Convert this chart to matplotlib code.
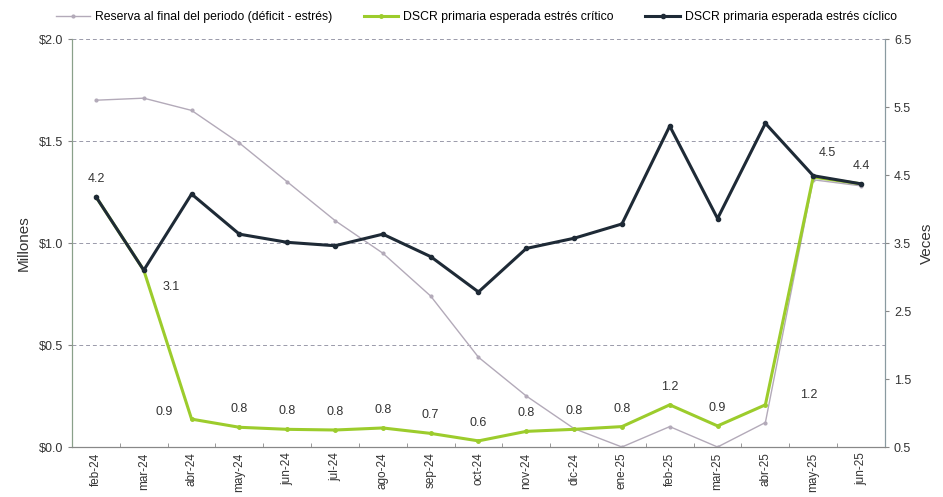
import matplotlib
matplotlib.use("Agg")
import matplotlib.pyplot as plt
import numpy as np

plt.rcParams['font.family'] = ['Liberation Sans', 'DejaVu Sans']

# --- Datos ---
meses = ["feb-24", "mar-24", "abr-24", "may-24", "jun-24", "jul-24", "ago-24", "sep-24",
         "oct-24", "nov-24", "dic-24", "ene-25", "feb-25", "mar-25", "abr-25", "may-25", "jun-25"]
reserva = [1.70, 1.71, 1.65, 1.49, 1.30, 1.11, 0.95, 0.74, 0.44, 0.25, 0.09, 0.00,
           0.10, 0.00, 0.12, 1.31, 1.28]
dscr_critico = [4.18, 3.10, 0.91, 0.79, 0.76, 0.75, 0.78, 0.70, 0.59, 0.73, 0.76, 0.80,
                1.12, 0.81, 1.12, 4.47, 4.37]
dscr_ciclico = [4.18, 3.10, 4.22, 3.63, 3.51, 3.46, 3.63, 3.30, 2.78, 3.42, 3.57, 3.78,
                5.22, 3.86, 5.26, 4.49, 4.37]
etiquetas = ["4.2", "3.1", "0.9", "0.8", "0.8", "0.8", "0.8", "0.7", "0.6", "0.8", "0.8", "0.8",
             "1.2", "0.9", "", "4.5", "4.4"]

c_gris = "#b3aab9"
c_verde = "#9ccc2c"
c_oscuro = "#1e2a36"
c_texto = "#333333"

fig = plt.figure(figsize=(9.43, 4.97), dpi=100)
ax = fig.add_axes([0.0764, 0.1006, 0.862, 0.8209])
ax2 = ax.twinx()

x = np.arange(len(meses))

ax.plot(x, reserva, color=c_gris, lw=1.0, marker='o', ms=2, zorder=2)
ax2.plot(x, dscr_critico, color=c_verde, lw=2.2, marker='o', ms=2.5, zorder=3)
ax2.plot(x, dscr_ciclico, color=c_oscuro, lw=2.2, marker='o', ms=3, zorder=4)

# eje izquierdo
ax.set_xlim(-0.5, len(meses) - 0.5)
ax.set_ylim(0, 2.0)
ax.set_yticks([0, 0.5, 1.0, 1.5, 2.0])
ax.set_yticklabels(["$0.0", "$0.5", "$1.0", "$1.5", "$2.0"])
ax.set_ylabel("Millones", fontsize=11, color=c_texto, labelpad=6)
ax.grid(axis='y', ls=(0, (4, 3)), color="#9a9aaa", lw=0.7)
ax.set_axisbelow(True)

# eje derecho
ax2.set_ylim(0.5, 6.5)
ax2.set_yticks([0.5, 1.5, 2.5, 3.5, 4.5, 5.5, 6.5])
ax2.set_yticklabels(["0.5", "1.5", "2.5", "3.5", "4.5", "5.5", "6.5"])
ax2.set_ylabel("Veces", fontsize=11, color=c_texto, labelpad=6)

ax.set_xticks(x)
ax.set_xticklabels(meses, rotation=90, fontsize=8.5, color=c_texto)
ax.set_xticks(np.arange(-0.5, len(meses), 1), minor=True)
ax.tick_params(axis='x', which='major', length=0, pad=4)
ax.tick_params(axis='x', which='minor', length=3, direction='in', color="#888888")
ax.tick_params(axis='y', labelsize=9, colors=c_texto, length=3, color="#888888")
ax2.tick_params(axis='y', labelsize=9, colors=c_texto, length=3, color="#888888")

for a in (ax, ax2):
    a.spines['top'].set_visible(False)
    a.spines['left'].set_color("#8aa08a")
    a.spines['right'].set_color("#8a9aa0")
    a.spines['bottom'].set_color("#888888")

# etiquetas de datos (eje derecho)
desp = {1: (20, -12), 2: (-20, 5), 15: (10, 16), 16: (0, 13)}
for i, t in enumerate(etiquetas):
    if not t:
        continue
    dx, dy = desp.get(i, (0, 13))
    ax2.annotate(t, (x[i], dscr_critico[i] if i not in (0, 15, 16) else dscr_ciclico[i]),
                 xytext=(dx, dy), textcoords='offset points', ha='center', va='center',
                 fontsize=9, color=c_texto)
ax2.text(x[15] - 0.1, 1.27, "1.2", ha='center', va='center', fontsize=9, color=c_texto)

# leyenda
h1, = ax.plot([], [], color=c_gris, lw=1.0, marker='o', ms=2)
h2, = ax.plot([], [], color=c_verde, lw=2.2, marker='o', ms=2.5)
h3, = ax.plot([], [], color=c_oscuro, lw=2.2, marker='o', ms=3)
fig.legend([h1, h2, h3],
           ["Reserva al final del periodo (déficit - estrés)",
            "DSCR primaria esperada estrés crítico",
            "DSCR primaria esperada estrés cíclico"],
           loc='center', bbox_to_anchor=(0.505, 0.966), ncol=3, frameon=False,
           fontsize=8.8, handlelength=2.8, columnspacing=2.6, handletextpad=0.4)

fig.savefig("out.png", dpi=100)
